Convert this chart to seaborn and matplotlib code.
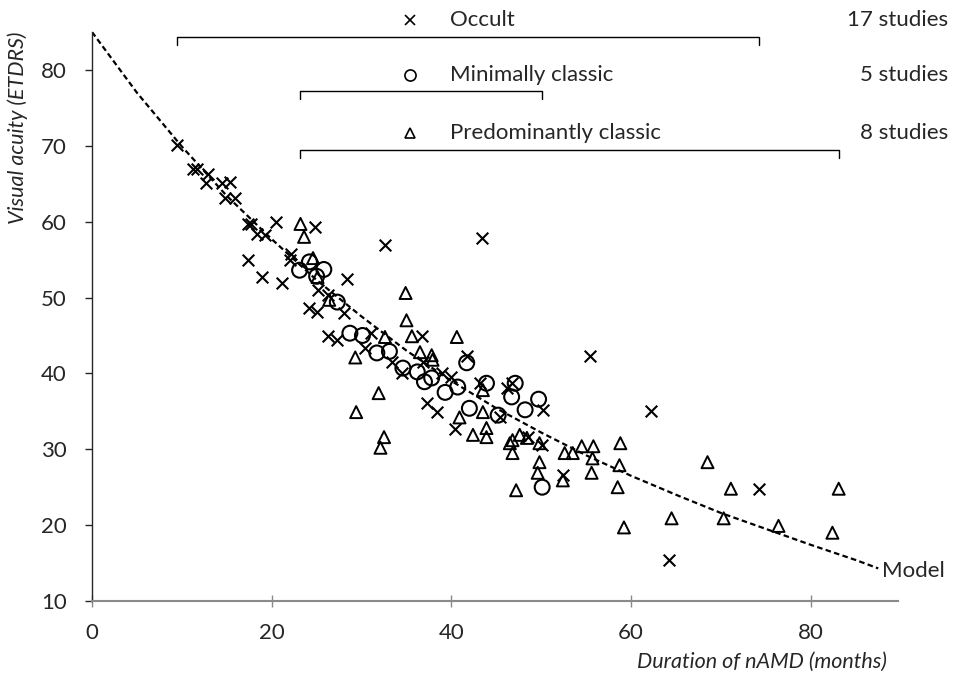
import matplotlib
matplotlib.use("Agg")
import matplotlib.pyplot as plt
import seaborn as sns
import pandas as pd

# durations (months) and visual acuity (ETDRS letters)
occult_x = [9.5, 11.2, 11.7, 12.9, 12.7, 14.5, 15.4, 14.8, 15.9, 17.4, 17.7, 18.4, 19.2, 20.5,
            17.4, 18.9, 21.2, 22.2, 22.0, 24.8, 28.4, 25.1, 26.3, 24.2, 25.0, 28.1, 32.6, 43.4,
            26.3, 27.3, 31.1, 30.4, 33.4, 34.5, 36.7, 36.8, 39.0, 40.0, 41.7, 43.2, 46.2, 46.7,
            37.3, 38.4, 40.4, 45.4, 50.2, 48.5, 50.1, 52.4, 55.4, 62.2, 74.2, 64.2]
occult_y = [70.1, 66.9, 67.0, 66.3, 65.1, 65.1, 65.2, 63.1, 63.1, 59.7, 59.7, 58.4, 58.2, 59.9,
            54.9, 52.7, 51.9, 55.7, 54.9, 59.3, 52.4, 51.0, 50.3, 48.6, 48.1, 47.9, 56.9, 57.8,
            44.9, 44.4, 45.3, 43.3, 41.5, 40.0, 44.9, 41.5, 40.0, 39.5, 42.3, 38.7, 38.1, 38.7,
            36.1, 34.9, 32.7, 34.2, 35.2, 31.6, 30.6, 26.6, 42.3, 35.0, 24.8, 15.4]

minimal_x = [23.1, 24.2, 25.8, 25.0, 27.3, 28.7, 30.1, 31.7, 33.1, 34.6, 36.2, 37.0, 37.8,
             39.3, 40.7, 41.7, 42.0, 43.9, 45.2, 46.7, 47.1, 48.2, 49.7, 50.1]
minimal_y = [53.6, 54.7, 53.7, 52.8, 49.4, 45.3, 45.0, 42.7, 42.9, 40.7, 40.2, 38.9, 39.4,
             37.5, 38.2, 41.4, 35.4, 38.7, 34.5, 36.9, 38.7, 35.2, 36.6, 25.0]

predom_x = [23.2, 23.6, 24.6, 25.1, 26.4, 34.9, 35.0, 35.6, 29.3, 32.6, 36.5, 37.8, 37.9,
            40.6, 31.9, 29.4, 32.5, 32.1, 43.5, 40.9, 43.5, 43.9, 42.4, 43.9, 46.5, 46.8,
            47.6, 48.4, 49.8, 46.8, 49.8, 49.6, 47.2, 52.6, 53.5, 54.5, 55.8, 55.7, 55.6,
            52.4, 58.8, 58.7, 58.5, 59.2, 64.5, 68.5, 71.1, 70.3, 76.4, 83.1, 82.4]
predom_y = [59.7, 58.0, 55.2, 52.7, 49.7, 50.6, 47.0, 44.9, 42.1, 44.8, 42.8, 42.4, 41.8,
            44.8, 37.4, 34.9, 31.6, 30.2, 37.8, 34.2, 34.9, 32.8, 31.9, 31.6, 30.8, 31.2,
            31.9, 31.5, 30.8, 29.5, 28.3, 26.9, 24.6, 29.5, 29.5, 30.4, 30.4, 28.8, 26.9,
            25.9, 30.8, 27.9, 25.0, 19.7, 20.9, 28.3, 24.8, 20.9, 19.9, 24.8, 19.0]

model_x = [0, 5, 10, 15, 20, 25, 30, 35, 40, 45, 50, 55, 60, 65, 70, 75, 80, 85, 87.5]
model_y = [85, 77.0, 69.9, 63.4, 57.7, 52.3, 47.5, 43.0, 39.0, 35.4, 32.2, 29.2, 26.5,
           24.0, 21.6, 19.5, 17.4, 15.4, 14.3]

groups = ["Occult", "Minimally classic", "Predominantly classic"]
n_studies = ["17 studies", "5 studies", "8 studies"]

sns.set_style("ticks")
plt.rcParams["font.family"] = ["Lato", "DejaVu Sans"]
plt.rcParams["font.size"] = 16

fig = plt.figure(figsize=(9.59, 6.76), dpi=100)
ax = fig.add_axes([92 / 959, 1 - 601 / 676, 806 / 959, 569 / 676])

model = pd.DataFrame({"x": model_x, "y": model_y})
sns.lineplot(data=model, x="x", y="y", ax=ax, color="black", lw=1.6,
             linestyle=(0, (2.5, 1.5)), sort=False)

sns.scatterplot(x=occult_x, y=occult_y, ax=ax, marker="x", s=70, color="black",
                linewidth=1.5, zorder=3)
sns.scatterplot(x=minimal_x, y=minimal_y, ax=ax, marker="o", s=115, color="black",
                facecolors="none", edgecolor="black", linewidth=1.5, zorder=3)
sns.scatterplot(x=predom_x, y=predom_y, ax=ax, marker="^", s=75, color="black",
                facecolors="none", edgecolor="black", linewidth=1.4, zorder=3)

ax.text(model_x[-1] + 0.4, model_y[-1] - 0.4, "Model", va="center", ha="left", fontsize=16)

# brackets showing the range of durations for each lesion type
all_x = [occult_x, minimal_x, predom_x]
bracket_y = [84.3, 77.2, 69.4]
for xs, by in zip(all_x, bracket_y):
    x0, x1 = min(xs), max(xs)
    ax.plot([x0, x0, x1, x1], [by - 1.0, by, by, by - 1.0], color="black", lw=1.0,
            clip_on=False)

# header labels
tr = fig.transFigure
rows_py = [20, 75, 133]
mk = [("x", 7), ("o", 8), ("^", 7)]
for (m, ms), py, g, ns in zip(mk, rows_py, groups, n_studies):
    ax.plot([410 / 959], [1 - py / 676], marker=m, ms=ms, mfc="none", mec="black",
            mew=1.2, color="black", transform=tr, clip_on=False, linestyle="none")
    fig.text(450 / 959, 1 - py / 676, g, ha="left", va="center", fontsize=16)
    fig.text(948 / 959, 1 - py / 676, ns, ha="right", va="center", fontsize=16)

ax.set_xlim(0, 89.7)
ax.set_ylim(10, 85)
ax.set_xticks([0, 20, 40, 60, 80])
ax.set_yticks([10, 20, 30, 40, 50, 60, 70, 80])
ax.set_xlabel("")
ax.set_ylabel("")
sns.despine(ax=ax)
ax.spines["bottom"].set_color("#8a8a8a")
ax.spines["bottom"].set_linewidth(1.5)
ax.spines["left"].set_linewidth(1.0)
ax.tick_params(axis="x", direction="inout", length=9, width=1.0, color="#8a8a8a",
               pad=11, labelsize=16)
ax.tick_params(axis="y", direction="out", length=5, width=1.0, pad=13, labelsize=16)

fig.text(18 / 959, 1 - 128 / 676, "Visual acuity (ETDRS)", rotation=90, ha="center",
         va="center", fontsize=15.5, style="italic")
fig.text(887 / 959, 1 - 662 / 676, "Duration of nAMD (months)", ha="right", va="center",
         fontsize=15.5, style="italic")

fig.savefig("out.png", dpi=100)
